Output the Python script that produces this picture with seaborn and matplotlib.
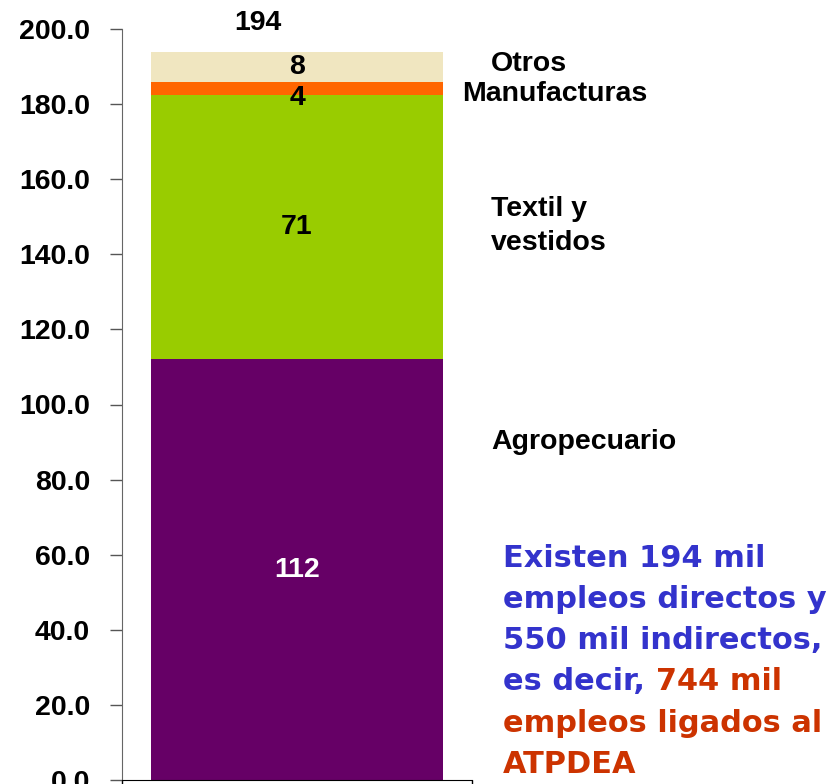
import numpy as np
import pandas as pd
import seaborn as sns
import matplotlib.pyplot as plt
from matplotlib.ticker import FormatStrFormatter, MultipleLocator

# datos: empleos directos (miles) por sector
sectores = ["Agropecuario", "Textil y\nvestidos", "Manufacturas", "Otros"]
valores = [112.1, 70.3, 3.6, 8.0]
etiquetas = ["112", "71", "4", "8"]
total_txt = "194"
colores = ["#660066", "#99CC00", "#FF6600", "#F0E6C0"]
col_txt = ["white", "black", "black", "black"]

sns.set_style("white")
plt.rcParams["font.family"] = ["Liberation Sans", "DejaVu Sans"]
plt.rcParams["font.weight"] = "bold"
plt.rcParams["text.color"] = "black"
plt.rcParams["ytick.color"] = "black"
plt.rcParams["ytick.labelcolor"] = "black"

fs = 20.5
fig = plt.figure(figsize=(8.33, 7.84), dpi=100)
ax = fig.add_axes([122 / 833, 4 / 784, 350 / 833, 751 / 784])

abajo = 0
for v, c in zip(valores, colores):
    sns.barplot(x=["ATPDEA"], y=[v], bottom=abajo, color=c, width=0.834,
                errorbar=None, saturation=1, linewidth=0, ax=ax)
    abajo += v

# etiquetas dentro de cada bloque
abajo = 0
ajuste = [0, 0, -2.5, 0]
for v, t, tc, dy in zip(valores, etiquetas, col_txt, ajuste):
    ax.text(0, abajo + v / 2 + dy, t, ha="center", va="center", fontsize=fs,
            fontweight="bold", color=tc)
    abajo += v
ax.text(-0.111, 201.6, total_txt, ha="center", va="center", fontsize=fs,
        fontweight="bold", clip_on=False)

# nombres de sectores a la derecha
nombres_pos = [(1.054, 90), (1.054, 147.5), (0.971, 182.7), (1.054, 190.7)]
for s, (px, py) in zip(sectores, nombres_pos):
    ax.text(px, py, s, transform=ax.get_yaxis_transform(), ha="left", va="center",
            fontsize=fs, fontweight="bold", linespacing=1.4, clip_on=False)

ax.set_xlim(-0.5, 0.5)
ax.set_ylim(0, 200)
ax.yaxis.set_major_locator(MultipleLocator(20))
ax.yaxis.set_major_formatter(FormatStrFormatter("%.1f"))
ax.set_xticks([-0.5, 0.5])
ax.set_xticklabels(["", ""])
ax.set_xlabel("")
ax.tick_params(axis="y", labelsize=fs, length=9, width=1, color="#555555", left=True, pad=14)
ax.tick_params(axis="x", length=7, width=1, bottom=True, color="black")
for lab in ax.get_yticklabels():
    lab.set_fontweight("bold")
sns.despine(ax=ax)
ax.spines["left"].set_color("#666666")
ax.spines["bottom"].set_color("black")

# texto a la derecha
azul = "#3333CC"
rojo = "#CC3300"
fz = 21.9
x0 = 503 / 833
lineas = [("Existen 194 mil", azul, 567), ("empleos directos y", azul, 608),
          ("550 mil indirectos,", azul, 649), ("empleos ligados al", rojo, 732),
          ("ATPDEA", rojo, 773)]
for t, c, yp in lineas:
    fig.text(x0, 1 - yp / 784, t, color=c, fontsize=fz, fontweight="bold",
             family="DejaVu Sans", va="baseline")
t1 = fig.text(x0, 1 - 690 / 784, "es decir, ", color=azul, fontsize=fz,
              fontweight="bold", family="DejaVu Sans", va="baseline")
t2 = fig.text(0, 0, "744 mil", color=rojo, fontsize=fz, fontweight="bold",
              family="DejaVu Sans", va="baseline", ha="left")
fig.canvas.draw()
bb = t1.get_window_extent()
t2.set_position((bb.x1 / fig.bbox.width, 1 - 690 / 784))

fig.savefig("out.png", dpi=100)
